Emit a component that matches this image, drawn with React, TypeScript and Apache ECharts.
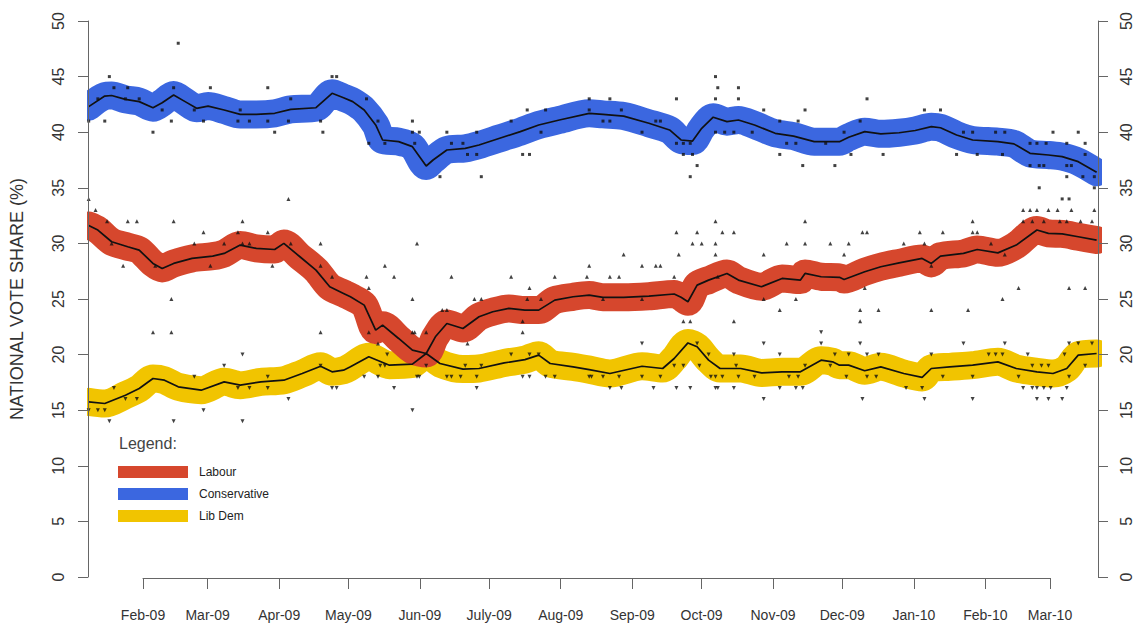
import React, { useEffect, useRef } from "react";
import * as echarts from "echarts";

// Month ticks on the time axis
const monthTicks = [
  "2009-02-01", "2009-03-01", "2009-04-01", "2009-05-01", "2009-06-01", "2009-07-01", "2009-08-01",
  "2009-09-01", "2009-10-01", "2009-11-01", "2009-12-01", "2010-01-01", "2010-02-01", "2010-03-01",
];
const monthLabels = [
  "Feb-09", "Mar-09", "Apr-09", "May-09", "Jun-09", "July-09", "Aug-09",
  "Sep-09", "Oct-09", "Nov-09", "Dec-09", "Jan-10", "Feb-10", "Mar-10",
];

// Smoothed trends (date, %)
const labourTrend: [string, number][] = [
  ["2009-01-08", 31.6], ["2009-01-12", 31.2], ["2009-01-18", 30.15], ["2009-01-25", 29.7], ["2009-01-30", 29.4],
  ["2009-02-05", 28.2], ["2009-02-09", 27.75], ["2009-02-14", 28.2], ["2009-02-22", 28.65], ["2009-03-03", 28.85],
  ["2009-03-08", 29.1], ["2009-03-15", 29.85], ["2009-03-22", 29.55], ["2009-03-30", 29.45], ["2009-04-03", 30.0],
  ["2009-04-10", 28.8], ["2009-04-17", 27.6], ["2009-04-23", 26.1], ["2009-04-29", 25.5], ["2009-05-02", 25.2],
  ["2009-05-08", 24.45], ["2009-05-13", 22.2], ["2009-05-16", 22.65], ["2009-05-23", 21.45], ["2009-05-29", 20.4],
  ["2009-06-04", 20.1], ["2009-06-08", 21.6], ["2009-06-13", 22.8], ["2009-06-20", 22.35], ["2009-06-27", 23.4],
  ["2009-07-03", 23.85], ["2009-07-10", 24.15], ["2009-07-17", 24.0], ["2009-07-23", 24.0], ["2009-07-30", 24.9],
  ["2009-08-07", 25.2], ["2009-08-14", 25.35], ["2009-08-20", 25.15], ["2009-08-29", 25.15], ["2009-09-09", 25.25],
  ["2009-09-20", 25.45], ["2009-09-23", 25.15], ["2009-09-26", 24.75], ["2009-09-30", 26.25], ["2009-10-05", 26.7],
  ["2009-10-13", 27.3], ["2009-10-18", 26.7], ["2009-10-28", 26.1], ["2009-11-06", 26.85], ["2009-11-14", 26.7],
  ["2009-11-16", 27.3], ["2009-11-23", 27.0], ["2009-12-01", 26.95], ["2009-12-03", 26.75], ["2009-12-12", 27.45],
  ["2009-12-19", 27.9], ["2009-12-27", 28.25], ["2010-01-06", 28.65], ["2010-01-10", 28.2], ["2010-01-14", 28.85],
  ["2010-01-24", 29.1], ["2010-01-30", 29.45], ["2010-02-08", 29.15], ["2010-02-16", 29.85], ["2010-02-25", 31.2],
  ["2010-03-02", 30.9], ["2010-03-08", 30.85], ["2010-03-15", 30.6], ["2010-03-23", 30.3],
];
const conservativeTrend: [string, number][] = [
  ["2009-01-08", 42.3], ["2009-01-15", 43.25], ["2009-01-18", 43.3], ["2009-01-24", 42.95], ["2009-01-30", 42.75],
  ["2009-02-05", 42.2], ["2009-02-09", 42.65], ["2009-02-14", 43.35], ["2009-02-19", 42.75], ["2009-02-24", 42.15],
  ["2009-03-01", 42.35], ["2009-03-08", 42.0], ["2009-03-15", 41.6], ["2009-03-22", 41.6], ["2009-03-30", 41.7],
  ["2009-04-06", 42.05], ["2009-04-17", 42.2], ["2009-04-24", 43.5], ["2009-04-29", 43.1], ["2009-05-03", 42.75],
  ["2009-05-08", 42.0], ["2009-05-13", 40.65], ["2009-05-16", 39.3], ["2009-05-23", 39.15], ["2009-05-29", 38.7],
  ["2009-06-04", 36.96], ["2009-06-07", 37.5], ["2009-06-13", 38.4], ["2009-06-21", 38.55], ["2009-06-27", 38.85],
  ["2009-07-06", 39.45], ["2009-07-15", 40.05], ["2009-07-23", 40.65], ["2009-08-01", 41.1], ["2009-08-14", 41.7],
  ["2009-08-20", 41.6], ["2009-08-29", 41.45], ["2009-09-09", 40.8], ["2009-09-18", 40.2], ["2009-09-23", 39.3],
  ["2009-09-28", 39.2], ["2009-10-02", 40.35], ["2009-10-07", 41.35], ["2009-10-13", 40.95], ["2009-10-18", 41.1],
  ["2009-10-25", 40.65], ["2009-11-03", 39.9], ["2009-11-11", 39.65], ["2009-11-20", 39.15], ["2009-12-01", 39.15],
  ["2009-12-05", 39.55], ["2009-12-12", 40.05], ["2009-12-19", 39.85], ["2009-12-27", 39.95], ["2010-01-03", 40.15],
  ["2010-01-10", 40.5], ["2010-01-14", 40.4], ["2010-01-21", 39.75], ["2010-01-28", 39.3], ["2010-02-08", 39.15],
  ["2010-02-15", 38.95], ["2010-02-22", 38.1], ["2010-03-02", 37.95], ["2010-03-08", 37.8], ["2010-03-15", 37.35],
  ["2010-03-23", 36.4],
];
const libDemTrend: [string, number][] = [
  ["2009-01-08", 15.75], ["2009-01-15", 15.6], ["2009-01-24", 16.35], ["2009-01-30", 16.95], ["2009-02-05", 17.85],
  ["2009-02-10", 17.7], ["2009-02-16", 17.1], ["2009-02-26", 16.8], ["2009-03-08", 17.55], ["2009-03-15", 17.25],
  ["2009-03-24", 17.55], ["2009-04-03", 17.7], ["2009-04-11", 18.3], ["2009-04-19", 18.95], ["2009-04-24", 18.45],
  ["2009-04-29", 18.6], ["2009-05-02", 18.9], ["2009-05-10", 19.8], ["2009-05-19", 19.05], ["2009-05-29", 19.15],
  ["2009-06-04", 20.1], ["2009-06-10", 19.2], ["2009-06-20", 18.7], ["2009-06-27", 18.75], ["2009-07-08", 19.25],
  ["2009-07-17", 19.55], ["2009-07-23", 19.95], ["2009-07-28", 19.2], ["2009-08-07", 18.9], ["2009-08-14", 18.65],
  ["2009-08-23", 18.3], ["2009-09-06", 18.95], ["2009-09-15", 18.75], ["2009-09-20", 19.65], ["2009-09-26", 21.05],
  ["2009-09-30", 20.7], ["2009-10-05", 19.5], ["2009-10-10", 18.75], ["2009-10-19", 18.75], ["2009-10-28", 18.35],
  ["2009-11-06", 18.45], ["2009-11-14", 18.45], ["2009-11-23", 19.5], ["2009-11-28", 19.35], ["2009-12-01", 19.05],
  ["2009-12-05", 19.05], ["2009-12-12", 18.55], ["2009-12-19", 18.9], ["2009-12-29", 18.3], ["2010-01-06", 17.95],
  ["2010-01-10", 18.75], ["2010-01-18", 18.9], ["2010-01-28", 19.05], ["2010-02-08", 19.35], ["2010-02-16", 18.75],
  ["2010-02-25", 18.45], ["2010-03-04", 18.3], ["2010-03-10", 18.75], ["2010-03-15", 19.95], ["2010-03-23", 20.1],
];

// Individual polls (date, %)
const labourPolls: [string, number][] = [
  ["2009-01-08", 34], ["2009-01-11", 33], ["2009-01-16", 32], ["2009-01-18", 30], ["2009-01-23", 28], ["2009-01-25", 32],
  ["2009-01-29", 32], ["2009-02-05", 22], ["2009-02-06", 28], ["2009-02-13", 25], ["2009-02-13", 22], ["2009-02-14", 32],
  ["2009-02-23", 30], ["2009-02-27", 31], ["2009-03-02", 28], ["2009-03-08", 30], ["2009-03-14", 31], ["2009-03-16", 32],
  ["2009-03-16", 30], ["2009-03-19", 30], ["2009-03-27", 31], ["2009-03-29", 28], ["2009-04-05", 34], ["2009-04-06", 30],
  ["2009-04-19", 30], ["2009-04-19", 28], ["2009-04-19", 22], ["2009-04-24", 27], ["2009-05-09", 27], ["2009-05-10", 26],
  ["2009-05-10", 22], ["2009-05-14", 21], ["2009-05-17", 28], ["2009-05-21", 27], ["2009-05-29", 25], ["2009-05-29", 22],
  ["2009-05-30", 22], ["2009-05-31", 30], ["2009-06-04", 22], ["2009-06-11", 24], ["2009-06-13", 24], ["2009-06-15", 27],
  ["2009-06-22", 21], ["2009-06-25", 25], ["2009-06-28", 25], ["2009-07-11", 27], ["2009-07-16", 23], ["2009-07-16", 22],
  ["2009-07-18", 25], ["2009-07-19", 26], ["2009-07-24", 25], ["2009-07-30", 27], ["2009-08-13", 27], ["2009-08-14", 28],
  ["2009-08-20", 25], ["2009-08-23", 27], ["2009-08-27", 27], ["2009-08-29", 29], ["2009-09-06", 28], ["2009-09-06", 25],
  ["2009-09-12", 28], ["2009-09-14", 28], ["2009-09-20", 27], ["2009-09-21", 31], ["2009-09-22", 29], ["2009-09-24", 23],
  ["2009-09-27", 23], ["2009-09-28", 30], ["2009-09-30", 31], ["2009-10-02", 30], ["2009-10-08", 30], ["2009-10-08", 32],
  ["2009-10-08", 29], ["2009-10-09", 27], ["2009-10-11", 31], ["2009-10-16", 31], ["2009-10-16", 23], ["2009-10-29", 29],
  ["2009-10-29", 25], ["2009-11-05", 24], ["2009-11-08", 30], ["2009-11-12", 25], ["2009-11-16", 32], ["2009-11-16", 30],
  ["2009-11-27", 30], ["2009-12-03", 29], ["2009-12-05", 30], ["2009-12-10", 24], ["2009-12-10", 23], ["2009-12-11", 31],
  ["2009-12-12", 26], ["2009-12-13", 31], ["2009-12-18", 24], ["2009-12-29", 30], ["2010-01-05", 31], ["2010-01-07", 30],
  ["2010-01-10", 28], ["2010-01-10", 24], ["2010-01-15", 31], ["2010-01-26", 24], ["2010-01-28", 32], ["2010-01-28", 31],
  ["2010-01-30", 31], ["2010-02-05", 30], ["2010-02-10", 25], ["2010-02-11", 29], ["2010-02-17", 26], ["2010-02-19", 33],
  ["2010-02-19", 32], ["2010-02-22", 33], ["2010-02-23", 32], ["2010-02-25", 33], ["2010-02-28", 32], ["2010-03-02", 33],
  ["2010-03-06", 33], ["2010-03-07", 32], ["2010-03-10", 32], ["2010-03-11", 26], ["2010-03-12", 33], ["2010-03-16", 32],
  ["2010-03-18", 26], ["2010-03-21", 32], ["2010-03-22", 33],
];
const conservativePolls: [string, number][] = [
  ["2009-01-08", 41], ["2009-01-12", 43], ["2009-01-15", 41], ["2009-01-17", 45], ["2009-01-19", 44], ["2009-01-24", 43],
  ["2009-01-25", 44], ["2009-01-30", 43], ["2009-02-05", 40], ["2009-02-09", 42], ["2009-02-13", 41], ["2009-02-14", 44],
  ["2009-02-16", 48], ["2009-02-23", 42], ["2009-02-27", 41], ["2009-03-02", 44], ["2009-03-14", 41], ["2009-03-15", 42],
  ["2009-03-19", 41], ["2009-03-27", 41], ["2009-03-27", 44], ["2009-03-30", 40], ["2009-04-05", 41], ["2009-04-06", 43],
  ["2009-04-19", 41], ["2009-04-20", 40], ["2009-04-24", 45], ["2009-04-26", 45], ["2009-05-09", 43], ["2009-05-10", 39],
  ["2009-05-14", 41], ["2009-05-17", 39], ["2009-05-29", 41], ["2009-05-29", 40], ["2009-05-30", 39], ["2009-06-01", 40],
  ["2009-06-10", 36], ["2009-06-13", 40], ["2009-06-15", 39], ["2009-06-20", 39], ["2009-06-22", 38], ["2009-06-26", 38],
  ["2009-06-26", 40], ["2009-06-28", 36], ["2009-07-11", 41], ["2009-07-16", 38], ["2009-07-18", 42], ["2009-07-19", 38],
  ["2009-07-24", 40], ["2009-07-26", 42], ["2009-08-14", 42], ["2009-08-14", 43], ["2009-08-20", 41], ["2009-08-23", 43],
  ["2009-08-23", 41], ["2009-08-28", 42], ["2009-09-06", 40], ["2009-09-12", 41], ["2009-09-14", 41], ["2009-09-21", 43],
  ["2009-09-21", 39], ["2009-09-24", 39], ["2009-09-24", 38], ["2009-09-27", 39], ["2009-09-27", 36], ["2009-09-28", 38],
  ["2009-09-30", 37], ["2009-10-08", 43], ["2009-10-08", 45], ["2009-10-09", 44], ["2009-10-08", 40], ["2009-10-12", 40],
  ["2009-10-16", 40], ["2009-10-18", 44], ["2009-10-18", 43], ["2009-10-24", 40], ["2009-10-29", 42], ["2009-11-05", 41],
  ["2009-11-05", 38], ["2009-11-08", 39], ["2009-11-12", 39], ["2009-11-13", 41], ["2009-11-15", 37], ["2009-11-16", 42],
  ["2009-11-25", 39], ["2009-11-29", 37], ["2009-12-03", 40], ["2009-12-06", 38], ["2009-12-10", 41], ["2009-12-13", 43],
  ["2009-12-20", 38], ["2010-01-07", 42], ["2010-01-14", 42], ["2010-01-21", 38], ["2010-01-24", 40], ["2010-01-28", 40],
  ["2010-01-30", 38], ["2010-02-07", 40], ["2010-02-10", 38], ["2010-02-11", 40], ["2010-02-22", 39], ["2010-02-22", 37],
  ["2010-02-25", 39], ["2010-02-26", 37], ["2010-02-26", 35], ["2010-02-28", 37], ["2010-03-01", 39], ["2010-03-04", 40],
  ["2010-03-08", 34], ["2010-03-10", 36], ["2010-03-10", 39], ["2010-03-10", 37], ["2010-03-11", 34], ["2010-03-12", 37],
  ["2010-03-15", 40], ["2010-03-17", 36], ["2010-03-18", 39], ["2010-03-18", 38], ["2010-03-22", 36], ["2010-03-22", 35],
];
const libDemPolls: [string, number][] = [
  ["2009-01-08", 15], ["2009-01-12", 15], ["2009-01-15", 15], ["2009-01-17", 14], ["2009-01-19", 17], ["2009-01-24", 16],
  ["2009-01-29", 16], ["2009-02-14", 14], ["2009-02-23", 18], ["2009-02-27", 15], ["2009-03-08", 19], ["2009-03-14", 17],
  ["2009-03-16", 14], ["2009-03-16", 20], ["2009-03-19", 17], ["2009-03-27", 17], ["2009-03-27", 18], ["2009-04-05", 16],
  ["2009-04-19", 19], ["2009-04-24", 17], ["2009-04-26", 17], ["2009-05-08", 18], ["2009-05-14", 18], ["2009-05-15", 19],
  ["2009-05-17", 19], ["2009-05-18", 20], ["2009-05-21", 17], ["2009-05-29", 15], ["2009-05-31", 18], ["2009-06-01", 18],
  ["2009-06-04", 19], ["2009-06-13", 18], ["2009-06-15", 18], ["2009-06-19", 18], ["2009-06-21", 19], ["2009-06-26", 17],
  ["2009-06-26", 18], ["2009-06-28", 19], ["2009-07-11", 20], ["2009-07-16", 18], ["2009-07-19", 20], ["2009-07-19", 18],
  ["2009-07-23", 20], ["2009-07-26", 18], ["2009-07-30", 18], ["2009-08-14", 18], ["2009-08-15", 18], ["2009-08-20", 18],
  ["2009-08-23", 17], ["2009-08-27", 18], ["2009-08-28", 17], ["2009-09-06", 21], ["2009-09-06", 18], ["2009-09-11", 17],
  ["2009-09-14", 18], ["2009-09-20", 19], ["2009-09-21", 17], ["2009-09-24", 19], ["2009-09-27", 17], ["2009-09-30", 21],
  ["2009-10-01", 19], ["2009-10-05", 20], ["2009-10-06", 18], ["2009-10-08", 17], ["2009-10-08", 18], ["2009-10-09", 17],
  ["2009-10-11", 18], ["2009-10-16", 20], ["2009-10-16", 17], ["2009-10-17", 19], ["2009-10-18", 18], ["2009-10-25", 18],
  ["2009-10-29", 21], ["2009-10-29", 16], ["2009-11-05", 20], ["2009-11-05", 17], ["2009-11-09", 18], ["2009-11-12", 17],
  ["2009-11-13", 18], ["2009-11-15", 17], ["2009-11-16", 19], ["2009-11-23", 22], ["2009-11-23", 21], ["2009-11-27", 19],
  ["2009-11-29", 20], ["2009-12-04", 18], ["2009-12-05", 20], ["2009-12-10", 21], ["2009-12-11", 16], ["2009-12-13", 20],
  ["2009-12-13", 18], ["2009-12-17", 18], ["2009-12-18", 20], ["2009-12-30", 17], ["2010-01-06", 17], ["2010-01-07", 16],
  ["2010-01-10", 20], ["2010-01-15", 18], ["2010-01-24", 21], ["2010-01-28", 18], ["2010-01-28", 16], ["2010-02-04", 20],
  ["2010-02-07", 20], ["2010-02-10", 20], ["2010-02-11", 21], ["2010-02-17", 18], ["2010-02-19", 17], ["2010-02-21", 20],
  ["2010-02-23", 19], ["2010-02-23", 17], ["2010-02-25", 17], ["2010-02-25", 16], ["2010-02-27", 19], ["2010-02-28", 17],
  ["2010-03-02", 19], ["2010-03-02", 16], ["2010-03-03", 17], ["2010-03-08", 16], ["2010-03-09", 20], ["2010-03-10", 17],
  ["2010-03-11", 21], ["2010-03-11", 18], ["2010-03-15", 21], ["2010-03-18", 19], ["2010-03-21", 21],
];

const BASE = Date.UTC(2009, 1, 1);
const toDay = (s: string) => {
  const [y, m, d] = s.split("-").map(Number);
  return (Date.UTC(y, m - 1, d) - BASE) / 86400000;
};
const pts = (arr: [string, number][]) => arr.map(([s, v]) => [toDay(s), v]);

const RED = "#d6472d";
const BLUE = "#3b67e0";
const YELLOW = "#f1c400";
const FONT = "'Liberation Sans', Arial, sans-serif";

export default function App() {
  const ref = useRef<HTMLDivElement>(null);
  useEffect(() => {
    if (!ref.current) return;
    const chart = echarts.init(ref.current, null, { renderer: "svg" });
    const tickDays = monthTicks.map(toDay);
    const yAxisCommon = {
      gridIndex: 0,
      type: "value",
      min: 0,
      max: 50,
      interval: 5,
      axisLine: { show: true, onZero: false, lineStyle: { color: "#666", width: 1 } },
      axisTick: { show: true, length: 10, lineStyle: { color: "#666" } },
      splitLine: { show: false },
    };
    const band = (name: string, data: [string, number][], color: string) => ({
      type: "line",
      name,
      xAxisIndex: 0,
      yAxisIndex: 0,
      data: pts(data),
      symbol: "none",
      smooth: 0.3,
      color,
      itemStyle: { color },
      lineStyle: { width: 28, color, cap: "round", join: "round" },
      z: -3,
      silent: true,
    });
    const trend = (name: string, data: [string, number][]) => ({
      type: "line",
      name,
      xAxisIndex: 0,
      yAxisIndex: 0,
      data: pts(data),
      symbol: "none",
      lineStyle: { width: 1.7, color: "#111" },
      z: -1,
      silent: true,
    });
    const polls = (name: string, data: [string, number][], symbol: string, rot: number) => ({
      type: "scatter",
      name,
      xAxisIndex: 0,
      yAxisIndex: 0,
      data: pts(data),
      symbol,
      symbolRotate: rot,
      symbolSize: symbol === "rect" ? 3 : 4,
      itemStyle: { color: "#111" },
      z: -1,
      silent: true,
    });
    chart.setOption({
      animation: false,
      backgroundColor: "#ffffff",
      textStyle: { fontFamily: FONT },
      grid: [
        { left: 87, right: 32, top: 21, bottom: 48 },
        { left: 143, right: 84, top: 570, height: 8 },
      ],
      xAxis: [
        { gridIndex: 0, type: "value", min: -24.3, max: 415.6, show: false },
        {
          gridIndex: 1,
          type: "value",
          min: 0,
          max: 393,
          position: "bottom",
          axisLine: { show: true, onZero: false, lineStyle: { color: "#666", width: 1 } },
          axisTick: { show: true, length: 11, customValues: tickDays, lineStyle: { color: "#666" } },
          axisLabel: {
            show: true,
            customValues: tickDays,
            formatter: (v: number) => {
              const i = tickDays.indexOf(v);
              return i >= 0 ? monthLabels[i] : "";
            },
            margin: 30,
            fontSize: 14,
            color: "#333",
            fontFamily: FONT,
          },
          splitLine: { show: false },
        },
      ],
      yAxis: [
        {
          ...yAxisCommon,
          position: "left",
          name: "NATIONAL VOTE SHARE (%)",
          nameLocation: "middle",
          nameGap: 62,
          nameTextStyle: { fontSize: 18, color: "#333", fontFamily: FONT },
          axisLabel: { rotate: 90, fontSize: 16, margin: 22, color: "#333", fontFamily: FONT },
        },
        {
          ...yAxisCommon,
          position: "right",
          axisLabel: { rotate: 90, fontSize: 16, margin: 20, color: "#333", fontFamily: FONT },
        },
        { gridIndex: 1, type: "value", min: 0, max: 1, show: false },
      ],
      legend: {
        data: ["Labour", "Conservative", "Lib Dem"],
        orient: "vertical",
        left: 118,
        top: 466,
        padding: 0,
        itemGap: 10,
        itemWidth: 70,
        itemHeight: 12,
        icon: "rect",
        selectedMode: false,
        textStyle: { fontSize: 12, color: "#222", fontFamily: FONT, padding: [0, 0, 0, 6] },
      },
      graphic: [
        {
          type: "rect",
          z: -2,
          silent: true,
          shape: { x: 67, y: 21, width: 20, height: 556 },
          style: { fill: "#ffffff" },
        },
        {
          type: "rect",
          z: -2,
          silent: true,
          shape: { x: 1102, y: 21, width: 17, height: 556 },
          style: { fill: "#ffffff" },
        },
        {
          type: "text",
          left: 119,
          top: 435,
          style: { text: "Legend:", fontSize: 16, fill: "#444", fontFamily: FONT },
        },
      ],
      series: [
        band("Lib Dem", libDemTrend, YELLOW),
        band("Conservative", conservativeTrend, BLUE),
        band("Labour", labourTrend, RED),
        polls("Conservative polls", conservativePolls, "rect", 0),
        polls("Labour polls", labourPolls, "triangle", 0),
        polls("Lib Dem polls", libDemPolls, "triangle", 180),
        trend("Labour trend", labourTrend),
        trend("Conservative trend", conservativeTrend),
        trend("Lib Dem trend", libDemTrend),
      ],
    });
    return () => chart.dispose();
  }, []);
  return (
    <div
      ref={ref}
      style={{ position: "fixed", left: 0, top: 0, width: 1134, height: 625, background: "#fff" }}
    />
  );
}
